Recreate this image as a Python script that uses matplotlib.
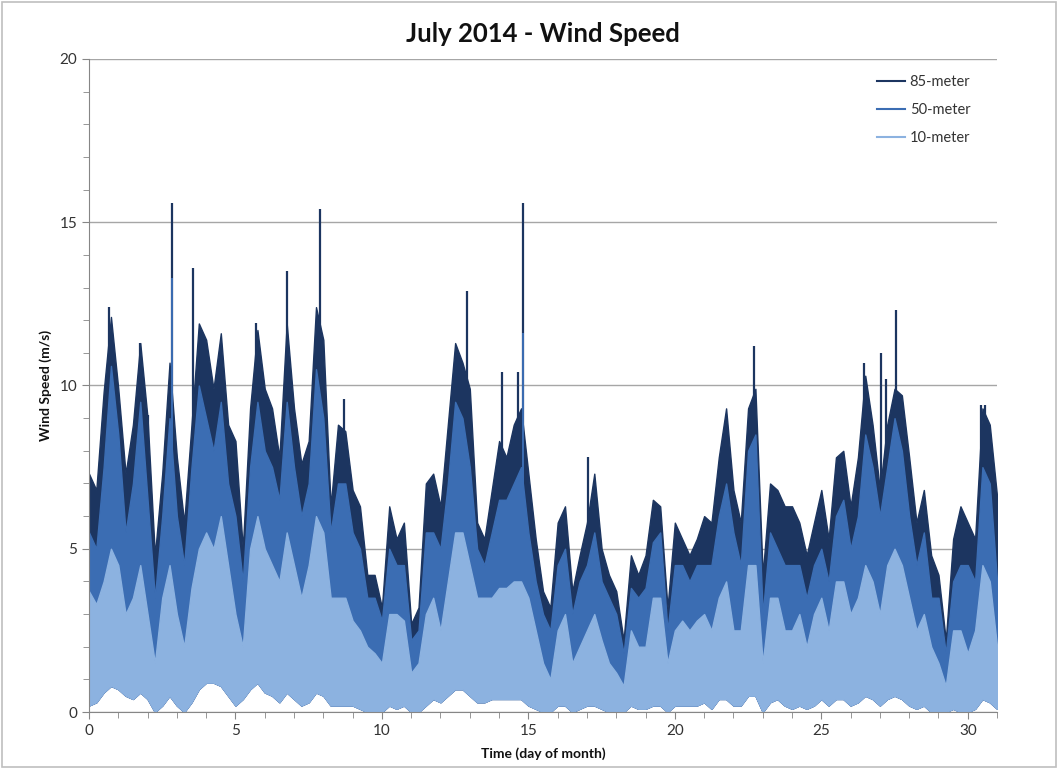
import matplotlib
matplotlib.use('Agg')
import matplotlib.pyplot as plt
from matplotlib.lines import Line2D
from matplotlib.patches import Rectangle
from matplotlib.ticker import MultipleLocator
import numpy as np

plt.rcParams['font.family'] = ['Lato', 'DejaVu Sans']

# envelope of each series, sampled every 6 hours (day 0 .. day 31)
hi85 = [7.3, 6.8, 9.8, 12.1, 9.9, 7.3, 8.8, 11.3, 9.0, 4.8, 7.3, 10.7, 7.8, 5.8, 8.8, 11.9, 11.4, 9.9, 11.6, 8.8, 8.3, 5.0,
        9.3, 11.7, 9.9, 9.3, 7.8, 11.9, 9.3, 7.6, 8.3, 12.4, 11.4, 6.3, 8.8, 8.6, 6.8, 6.3, 4.2, 4.2, 3.2, 6.3, 5.3,
        5.8, 2.7, 3.2, 7.0, 7.3, 6.3, 8.8, 11.3, 10.7, 9.9, 5.8, 5.3, 6.8, 8.3, 7.8, 8.8, 9.3, 7.3, 5.3, 3.7,
        3.2, 5.8, 6.3, 3.7, 4.8, 5.8, 7.3, 5.0, 4.2, 3.7, 2.2, 4.8, 4.2, 4.8, 6.5, 6.3, 3.2, 5.8, 5.3, 4.8, 5.3,
        6.0, 5.8, 7.8, 9.3, 6.8, 5.8, 9.3, 9.9, 4.2, 7.0, 6.8, 6.3, 6.3, 5.8, 4.8, 5.8, 6.8, 5.3, 7.8, 8.0,
        6.3, 7.8, 10.3, 8.8, 6.8, 8.8, 9.9, 9.7, 7.8, 5.8, 6.8, 4.8, 4.2, 2.2, 5.3, 6.3, 5.8, 5.3, 9.3, 8.8, 6.6]
hi50 = [5.5, 5.0, 7.5, 10.6, 8.5, 5.5, 7.0, 9.5, 6.5, 3.5, 6.0, 9.0, 6.0, 4.5, 7.5, 10.0, 9.0, 8.0, 9.5, 7.0, 6.0, 4.0,
        7.5, 9.5, 8.0, 7.5, 6.5, 9.5, 7.5, 6.0, 7.0, 10.5, 9.0, 5.5, 7.0, 7.0, 5.5, 5.0, 3.5, 3.5, 2.8, 5.0, 4.5,
        4.5, 2.2, 2.5, 5.5, 5.5, 5.0, 7.0, 9.5, 9.0, 7.5, 5.0, 4.5, 5.5, 6.5, 6.5, 7.0, 7.5, 5.5, 4.0, 3.0,
        2.5, 4.5, 5.0, 3.0, 4.0, 4.5, 5.5, 4.0, 3.5, 3.0, 1.8, 3.8, 3.5, 3.8, 5.2, 5.5, 2.5, 4.5, 4.5, 4.0, 4.5,
        4.5, 4.5, 6.0, 7.0, 5.5, 4.5, 8.0, 8.5, 3.0, 5.5, 5.0, 4.5, 4.5, 4.5, 3.5, 4.5, 5.0, 4.0, 6.0, 6.5,
        5.0, 6.0, 8.5, 7.5, 6.0, 7.5, 9.0, 8.0, 6.0, 4.5, 5.5, 3.5, 3.5, 1.8, 4.0, 4.5, 4.5, 4.0, 7.5, 7.0, 4.0]
hi10 = [3.7, 3.3, 4.0, 5.0, 4.5, 3.0, 3.5, 4.5, 3.0, 1.5, 3.5, 4.5, 3.0, 2.0, 3.8, 5.0, 5.5, 5.0, 6.0, 4.5, 3.0, 2.0,
        5.0, 6.0, 5.0, 4.5, 4.0, 5.5, 4.5, 3.5, 4.5, 6.0, 5.5, 3.5, 3.5, 3.5, 2.8, 2.5, 2.0, 1.8, 1.5, 3.0, 3.0,
        2.8, 1.2, 1.5, 3.0, 3.5, 2.5, 4.0, 5.5, 5.5, 4.5, 3.5, 3.5, 3.5, 3.8, 3.8, 4.0, 4.0, 3.5, 2.5, 1.5,
        1.0, 2.5, 3.0, 1.5, 2.0, 2.5, 3.0, 2.2, 1.5, 1.2, 0.8, 2.5, 2.0, 2.0, 3.5, 3.5, 1.5, 2.5, 2.8, 2.5, 2.8,
        3.0, 2.5, 3.5, 4.0, 2.5, 2.5, 4.5, 4.5, 1.5, 3.5, 3.5, 2.5, 2.5, 3.0, 2.0, 3.0, 3.5, 2.5, 4.0, 4.0,
        3.0, 3.5, 4.5, 4.0, 3.0, 4.5, 5.0, 4.5, 3.5, 2.5, 3.0, 2.0, 1.5, 0.8, 2.5, 2.5, 1.8, 2.5, 4.5, 4.0, 2.0]
lo10 = [0.2, 0.3, 0.6, 0.8, 0.7, 0.5, 0.4, 0.6, 0.4, 0.0, 0.2, 0.5, 0.2, 0.0, 0.3, 0.7, 0.9, 0.9, 0.8, 0.5, 0.2, 0.4,
        0.7, 0.9, 0.6, 0.5, 0.3, 0.6, 0.4, 0.2, 0.3, 0.6, 0.5, 0.2, 0.2, 0.2, 0.2, 0.1, 0.0, 0.0, 0.0, 0.2, 0.1,
        0.2, 0.0, 0.0, 0.2, 0.4, 0.3, 0.5, 0.7, 0.7, 0.5, 0.3, 0.3, 0.4, 0.4, 0.4, 0.4, 0.4, 0.2, 0.1, 0.0,
        0.0, 0.2, 0.2, 0.0, 0.1, 0.2, 0.2, 0.1, 0.0, 0.0, 0.0, 0.2, 0.1, 0.1, 0.2, 0.2, 0.0, 0.2, 0.2, 0.2, 0.2,
        0.3, 0.1, 0.4, 0.4, 0.2, 0.2, 0.5, 0.5, 0.0, 0.3, 0.4, 0.2, 0.1, 0.2, 0.1, 0.2, 0.4, 0.2, 0.4, 0.4,
        0.2, 0.3, 0.5, 0.4, 0.2, 0.4, 0.5, 0.4, 0.2, 0.1, 0.2, 0.0, 0.0, 0.0, 0.1, 0.0, 0.0, 0.1, 0.4, 0.3, 0.1]
days = np.arange(len(hi85)) * 0.25

# short gusts that stick out of the envelope
spike_days85 = [0.68, 1.75, 2.0, 2.85, 3.55, 5.7, 6.75, 7.9, 8.7, 12.9, 14.1, 14.65, 14.8,
                17.05, 22.7, 26.45, 27.05, 27.2, 27.55, 30.45, 30.6]
spike_vals85 = [12.4, 11.3, 9.1, 15.6, 13.6, 11.9, 13.5, 15.4, 9.6, 12.9, 10.4, 10.4, 15.6,
                7.8, 11.2, 10.7, 11.0, 10.2, 12.3, 9.4, 9.4]
spike_days50 = [2.85, 14.8]
spike_vals50 = [13.3, 11.6]

c85 = '#1c3560'
c50 = '#3b6db3'
c10 = '#8cb2e0'

fig = plt.figure(figsize=(10.58, 7.69), dpi=100)
fig.patches.append(Rectangle((0.002, 0.002), 0.996, 0.996, transform=fig.transFigure,
                             fill=False, edgecolor='#bfbfbf', linewidth=1.2))
ax = fig.add_axes([0.0841, 0.0741, 0.8583, 0.8492])

ax.fill_between(days, lo10, hi85, color=c85, linewidth=1.0, edgecolor=c85, zorder=2)
ax.vlines(spike_days85, 2, spike_vals85, color=c85, linewidth=1.6, zorder=2.1)
ax.fill_between(days, lo10, hi50, color=c50, linewidth=1.0, edgecolor=c50, zorder=2.2)
ax.vlines(spike_days50, 2, spike_vals50, color=c50, linewidth=1.4, zorder=2.3)
ax.fill_between(days, lo10, hi10, color=c10, linewidth=1.0, edgecolor=c10, zorder=2.4)

ax.set_xlim(0, 31)
ax.set_ylim(0, 20)
ax.xaxis.set_major_locator(MultipleLocator(5))
ax.xaxis.set_minor_locator(MultipleLocator(1))
ax.yaxis.set_major_locator(MultipleLocator(5))
ax.yaxis.set_minor_locator(MultipleLocator(1))
ax.grid(axis='y', which='major', color='#a6a6a6', linewidth=1.0)
ax.set_axisbelow(True)
for s in ['top', 'right']:
    ax.spines[s].set_visible(False)
for s in ['left', 'bottom']:
    ax.spines[s].set_color('#868686')
ax.tick_params(which='both', direction='out', colors='#868686', labelcolor='#333333', labelsize=11)
ax.tick_params(which='major', length=5)
ax.tick_params(which='minor', length=4)

ax.set_title('July 2014 - Wind Speed', fontsize=18.5, fontweight='bold', color='#111111', pad=12)
ax.set_xlabel('Time (day of month)', fontsize=10, fontweight='bold', color='#111111', labelpad=7)
ax.set_ylabel('Wind Speed (m/s)', fontsize=10, fontweight='bold', color='#111111', labelpad=5)

handles = [Line2D([], [], color=c85, linewidth=1.5),
           Line2D([], [], color=c50, linewidth=1.5),
           Line2D([], [], color=c10, linewidth=1.5)]
ax.legend(handles, ['85-meter', '50-meter', '10-meter'], loc='upper right',
          bbox_to_anchor=(0.985, 0.995), frameon=False, fontsize=10.5,
          labelspacing=0.95, handlelength=1.9, handletextpad=0.35, labelcolor='#333333')

fig.savefig('out.png', dpi=100)
